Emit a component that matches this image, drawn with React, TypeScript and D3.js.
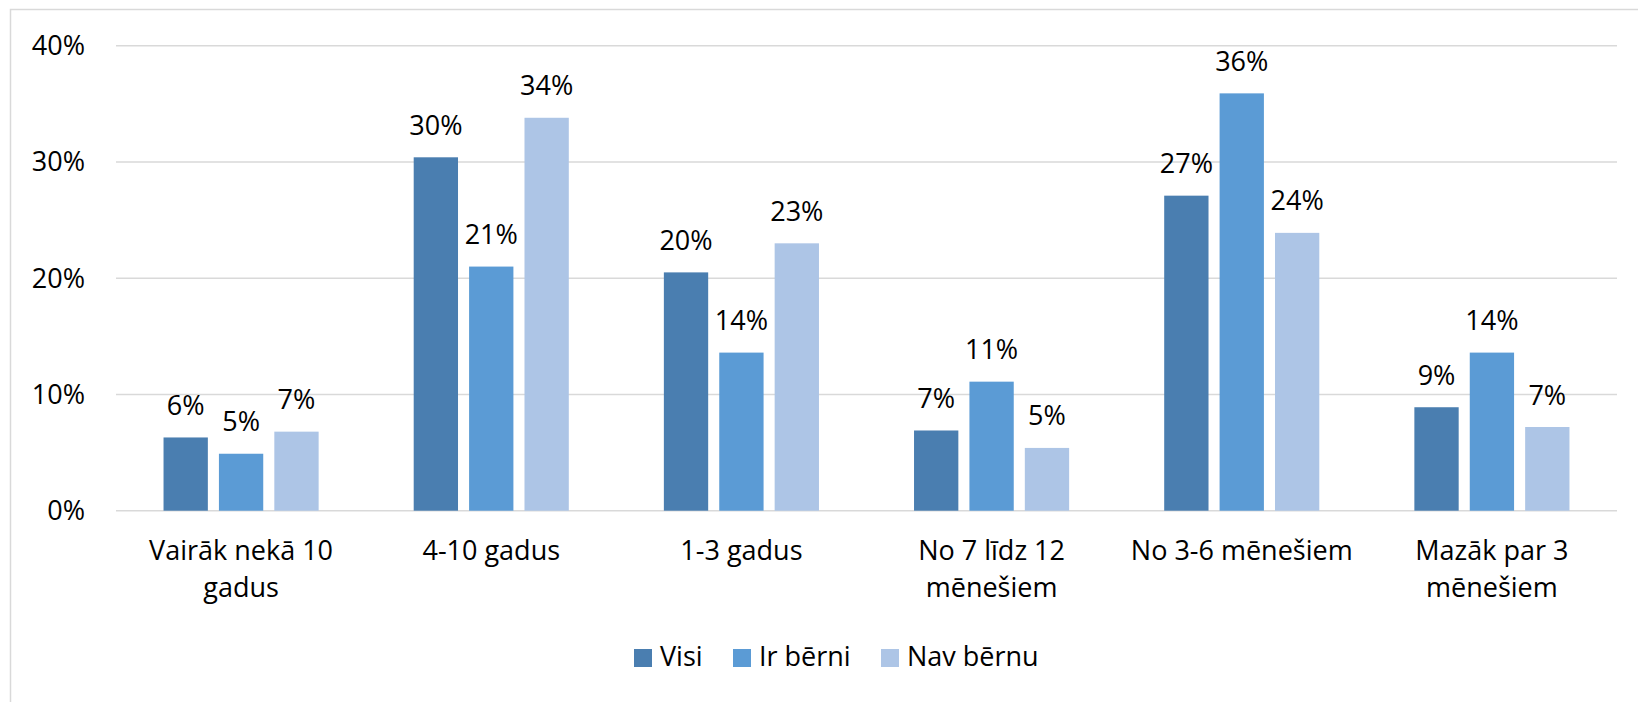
import React from "react";
import * as d3 from "d3";

const categories = [
  "Vairāk nekā 10 gadus",
  "4-10 gadus",
  "1-3 gadus",
  "No 7 līdz 12 mēnešiem",
  "No 3-6 mēnešiem",
  "Mazāk par 3 mēnešiem",
];
const categoryLines = [
  ["Vairāk nekā 10", "gadus"],
  ["4-10 gadus"],
  ["1-3 gadus"],
  ["No 7 līdz 12", "mēnešiem"],
  ["No 3-6 mēnešiem"],
  ["Mazāk par 3", "mēnešiem"],
];
const seriesNames = ["Visi", "Ir bērni", "Nav bērnu"];
const visi = [6.3, 30.4, 20.5, 6.9, 27.1, 8.9];
const irBerni = [4.9, 21.0, 13.6, 11.1, 35.9, 13.6];
const navBernu = [6.8, 33.8, 23.0, 5.4, 23.9, 7.2];
const seriesValues = [visi, irBerni, navBernu];
const seriesLabels = [
  ["6%", "30%", "20%", "7%", "27%", "9%"],
  ["5%", "21%", "14%", "11%", "36%", "14%"],
  ["7%", "34%", "23%", "5%", "24%", "7%"],
];
const yTicks = [0, 10, 20, 30, 40];
const colors = ["#4a7eb0", "#5b9bd5", "#adc5e6"];

const W = 1638;
const H = 702;
const FONT = "'Open Sans', Lato, sans-serif";
const FS = 27;

export default function App() {
  const x0 = d3.scaleBand<string>().domain(categories).range([116, 1617]).padding(0);
  const y = d3.scaleLinear().domain([0, 40]).range([510.7, 45.7]);
  const groupW = x0.bandwidth() * 0.62;
  const legendX = [634, 733, 881];

  return (
    <svg
      width={W}
      height={H}
      style={{ position: "absolute", left: 0, top: 0, background: "#fff" }}
      fontFamily={FONT}
    >
      <rect x={10.5} y={9.5} width={W + 20} height={H + 20} fill="#fff" stroke="#d9d9d9" strokeWidth={1.5} />
      {yTicks.map((t) => (
        <g key={t}>
          <line x1={116} x2={1617} y1={y(t)} y2={y(t)} stroke="#d9d9d9" strokeWidth={1.5} />
          <text x={85} y={y(t) + 9.5} textAnchor="end" fontSize={FS} fill="#000">
            {t}%
          </text>
        </g>
      ))}
      {categories.map((c, ci) => {
        const cx = (x0(c) as number) + x0.bandwidth() / 2;
        const x1 = d3
          .scaleBand<string>()
          .domain(seriesNames)
          .range([cx - groupW / 2, cx + groupW / 2])
          .paddingInner(0.2);
        return (
          <g key={c}>
            {seriesNames.map((s, si) => {
              const v = seriesValues[si][ci];
              const bx = x1(s) as number;
              return (
                <g key={s}>
                  <rect x={bx} y={y(v)} width={x1.bandwidth()} height={y(0) - y(v)} fill={colors[si]} />
                  <text
                    x={bx + x1.bandwidth() / 2}
                    y={y(v) - 22.5}
                    textAnchor="middle"
                    fontSize={FS}
                    fill="#000"
                  >
                    {seriesLabels[si][ci]}
                  </text>
                </g>
              );
            })}
            {categoryLines[ci].map((ln, li) => (
              <text key={li} x={cx} y={560 + li * 37} textAnchor="middle" fontSize={FS} fill="#000">
                {ln}
              </text>
            ))}
          </g>
        );
      })}
      {seriesNames.map((s, si) => (
        <g key={s}>
          <rect x={legendX[si]} y={649} width={18} height={18} fill={colors[si]} />
          <text x={legendX[si] + 26} y={666} fontSize={FS} fill="#000">
            {s}
          </text>
        </g>
      ))}
    </svg>
  );
}
